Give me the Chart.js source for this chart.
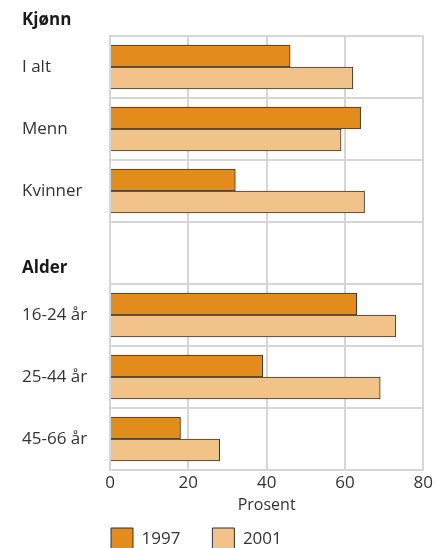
<!DOCTYPE html>
<html>
<head>
<meta charset="utf-8">
<style>
  html, body { margin: 0; padding: 0; background: #fff; }
  #wrap { width: 438px; height: 548px; }
</style>
</head>
<body>
<div id="wrap">
  <canvas id="diagram"></canvas>
</div>

<script src="https://cdn.jsdelivr.net/npm/chart.js"></script>
<script>
  // Kategorier og verdier (prosent)
  const kategorier = ['I alt', 'Menn', 'Kvinner', '', '16-24 år', '25-44 år', '45-66 år'];
  const verdier1997 = [46, 64, 32, null, 63, 39, 18];
  const verdier2001 = [62, 59, 65, null, 73, 69, 28];
  const aar = ['1997', '2001'];
  // Overskrifter for gruppene, plassert over kategorien med indeks "foer"
  const grupper = [
    { tekst: 'Kjønn', foer: 0 },
    { tekst: 'Alder', foer: 4 }
  ];
  const xTicks = [0, 20, 40, 60, 80];

  const tekstfarge = '#333333';
  const rutenett = '#d6d6d6';
  const font = "'Open Sans', sans-serif";

  // Tegner gruppeoverskriftene (Kjønn, Alder) til venstre
  const overskrifter = {
    id: 'overskrifter',
    afterDraw(chart) {
      const ctx = chart.ctx;
      const y = chart.scales.y;
      ctx.save();
      ctx.font = "bold 17px " + font;
      ctx.fillStyle = '#1a1a1a';
      ctx.textAlign = 'left';
      ctx.textBaseline = 'middle';
      grupper.forEach(g => {
        const topp = y.getPixelForValue(g.foer) - y.height / kategorier.length / 2;
        ctx.fillText(g.tekst, 22, topp - 16);
      });
      ctx.restore();
    }
  };

  // Forklaringen: lav høyde i oppsettet, tegnes under aksetittelen fra plottets venstre kant
  const forklaring = {
    id: 'forklaring',
    beforeLayout(chart) {
      const l = chart.legend;
      if (l && !l._lappet) {
        const fit = l.fit.bind(l);
        l.fit = function () { fit(); this.height = 35; };
        l._lappet = true;
      }
    },
    afterLayout(chart) {
      const l = chart.legend;
      const pad = l.options.labels.padding;
      const dx = chart.chartArea.left + 1 - pad - l.left;
      l.left += dx;
      l.right += dx;
      l.top = chart.chartArea.bottom + 58 - pad;
      l.bottom = chart.height;
      l.height = l.bottom - l.top;
    }
  };

  const data = {
    labels: kategorier,
    datasets: [
      {
        label: aar[0],
        data: verdier1997,
        backgroundColor: '#e38c1b',
        borderColor: '#333333',
        borderWidth: 1,
        barThickness: 22
      },
      {
        label: aar[1],
        data: verdier2001,
        backgroundColor: '#f2c389',
        borderColor: '#333333',
        borderWidth: 1,
        barThickness: 22
      }
    ]
  };

  const config = {
    type: 'bar',
    data: data,
    options: {
      indexAxis: 'y',
      responsive: true,
      maintainAspectRatio: false,
      animation: false,
      layout: { padding: { left: 22, right: 11, top: 36, bottom: 0 } },
      datasets: { bar: { categoryPercentage: 0.77, barPercentage: 1 } },
      scales: {
        x: {
          min: 0,
          max: 80,
          afterBuildTicks(scale) { scale.ticks = xTicks.map(v => ({ value: v })); },
          grid: { color: rutenett, lineWidth: 2, drawTicks: false },
          border: { color: rutenett, width: 2 },
          ticks: { color: tekstfarge, padding: 5, font: { family: font, size: 17, lineHeight: 1 } },
          title: {
            display: true,
            text: 'Prosent',
            color: tekstfarge,
            padding: { top: 0, bottom: 0 },
            font: { family: font, size: 16, lineHeight: 1 }
          }
        },
        y: {
          afterFit(scale) { scale.width = 88; },
          grid: { color: rutenett, lineWidth: 2, drawTicks: false, offset: true },
          border: { color: rutenett, width: 2 },
          ticks: {
            color: tekstfarge,
            crossAlign: 'far',
            font: { family: font, size: 17 }
          }
        }
      },
      plugins: {
        legend: {
          position: 'bottom',
          align: 'start',
          labels: {
            boxWidth: 22,
            boxHeight: 22,
            padding: 32,
            color: tekstfarge,
            font: { family: font, size: 17 }
          }
        },
        tooltip: { enabled: false }
      }
    },
    plugins: [overskrifter, forklaring]
  };

  const diagram = new Chart(document.getElementById('diagram'), config);
</script>
</body>
</html>
